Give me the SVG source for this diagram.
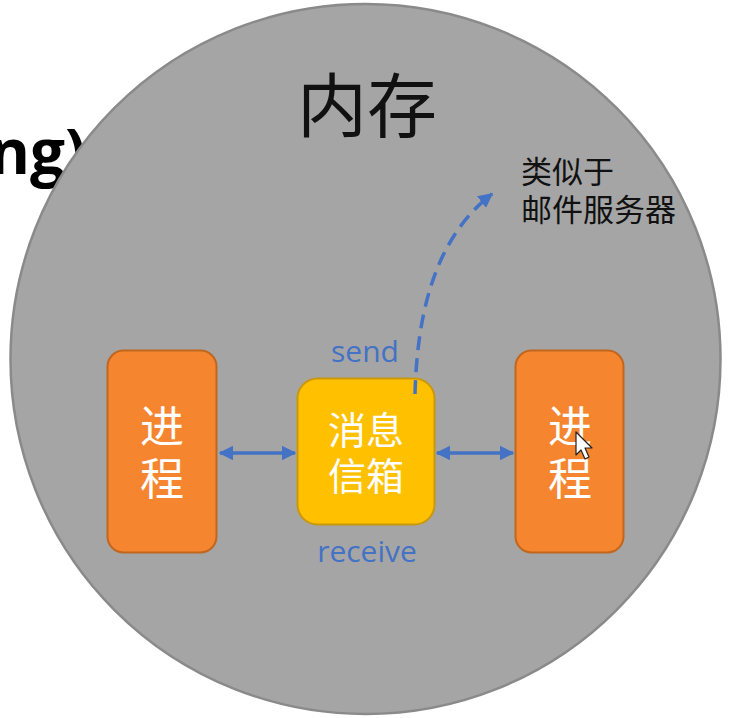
<svg xmlns="http://www.w3.org/2000/svg" width="733" height="718" viewBox="0 0 733 718">
  <style>
    .proc { fill: #f5862f; stroke: #c0661f; stroke-width: 2; }
    .box  { fill: #ffc000; stroke: #c9980a; stroke-width: 2; }
    .lbl  { font-family: "Noto Sans CJK SC", "Noto Sans", sans-serif; fill: #ffffff; text-anchor: middle; }
    .blue { font-family: "Open Sans", "Noto Sans", sans-serif; fill: #4472c4; font-size: 30px; text-anchor: middle; }
    .dark { font-family: "Noto Sans CJK SC", "Noto Sans", sans-serif; fill: #111111; }
    .link { stroke: #4472c4; stroke-width: 3.5; fill: none; }
  </style>
  <defs>
    <marker id="head" viewBox="0 0 10 10" refX="9" refY="5" markerWidth="4.2" markerHeight="4.2" orient="auto-start-reverse" markerUnits="strokeWidth">
      <path d="M0,0 L10,5 L0,10 z" fill="#4472c4"/>
    </marker>
  </defs>

  <rect width="733" height="718" fill="#ffffff"/>

  <!-- heading fragment sitting behind the circle -->
  <text x="86" y="174" font-family="Open Sans, Noto Sans, sans-serif" font-weight="700" font-size="62" fill="#000000" text-anchor="end">ng)</text>

  <!-- memory area -->
  <g id="memory">
    <circle cx="365.5" cy="359" r="355" fill="#a5a5a5" stroke="#8a8a8a" stroke-width="2.5"/>
    <text class="dark" x="367" y="132" font-size="70" text-anchor="middle">内存</text>
  </g>

  <g id="process-left">
    <rect class="proc" x="107.5" y="350.5" width="109" height="202" rx="16"/>
    <text class="lbl" font-size="44"><tspan x="162" y="443">进</tspan><tspan x="162" y="495">程</tspan></text>
  </g>

  <g id="mailbox">
    <rect class="box" x="297.5" y="378.5" width="137" height="146" rx="20"/>
    <text class="lbl" font-size="38"><tspan x="366" y="444">消息</tspan><tspan x="366" y="490">信箱</tspan></text>
  </g>

  <g id="process-right">
    <rect class="proc" x="515.5" y="350.5" width="108" height="202" rx="16"/>
    <text class="lbl" font-size="44"><tspan x="570" y="443">进</tspan><tspan x="570" y="495">程</tspan></text>
  </g>

  <!-- connectors -->
  <g id="connectors">
    <line class="link" x1="220" y1="453" x2="295" y2="453" marker-start="url(#head)" marker-end="url(#head)"/>
    <line class="link" x1="437" y1="453" x2="513" y2="453" marker-start="url(#head)" marker-end="url(#head)"/>
    <path class="link" d="M415,394 C417,320 432,240 492,194" stroke-dasharray="14,8" marker-end="url(#head)"/>
  </g>

  <g id="labels">
    <text class="blue" x="365" y="362">send</text>
    <text class="blue" x="367" y="562">receive</text>
    <text class="dark" font-size="31"><tspan x="521" y="183">类似于</tspan><tspan x="521" y="221">邮件服务器</tspan></text>
  </g>

  <!-- pointer -->
  <path d="M576,432 L576,455 L581,450 L585,459 L589,457 L585,448 L592,448 Z" fill="#ffffff" stroke="#222222" stroke-width="1.2" stroke-linejoin="round"/>
</svg>
